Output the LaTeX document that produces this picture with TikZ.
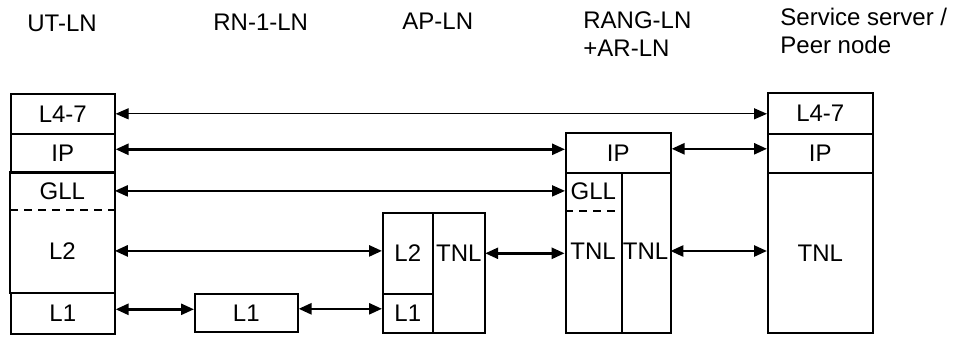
\documentclass[tikz,border=0pt]{standalone}
\usepackage{fontspec}
\setmainfont{Liberation Sans}
\usetikzlibrary{arrows.meta}

\begin{document}
\begin{tikzpicture}[x=0.5pt, y=-0.5pt,
    every node/.style={font=\fontsize{12}{14}\selectfont, inner sep=0pt},
    titre/.style={anchor=base west},
    cell/.style={draw, line width=0.8pt, anchor=north west},
    texte/.style={anchor=north west},
    fleche/.style={{Triangle[length=6.5pt,width=5.5pt]}-{Triangle[length=6.5pt,width=5.5pt]}, line width=1.3pt}]

    \useasboundingbox (0,0) rectangle (953,338);

    % Titres des colonnes (ancre sur la derniere ligne)
    \node[titre] (tut) at (27,31) {UT-LN};
    \node[titre] (trn) at (213,30) {RN-1-LN};
    \node[titre] (tap) at (402,29) {AP-LN};
    \node[titre, align=left] (trang) at (583,56) {RANG-LN\\+AR-LN};
    \node[titre, align=left] (tserv) at (780,53) {Service server /\\Peer node};

    % Pile UT-LN
    \node[cell, minimum width=52pt, minimum height=20pt] (utl47) at (10,93) {L4-7};
    \node[cell, minimum width=52pt, minimum height=19.5pt] (utip) at (10,133) {IP};
    \node[texte, minimum width=52pt, minimum height=18.5pt] (utgll) at (10,172) {GLL};
    \node[texte, minimum width=52pt, minimum height=41.5pt] (utl2) at (10,209) {L2};
    \node[cell, minimum width=52pt, minimum height=20.5pt] (utl1) at (10,292) {L1};
    \draw[line width=0.8pt] (utgll.north west) rectangle (utl2.south east);
    \draw[line width=0.8pt, dash pattern=on 4pt off 3pt] (utgll.south west) -- (utgll.south east);

    % Pile RN-1-LN
    \node[cell, minimum width=51.5pt, minimum height=19pt] (rnl1) at (194,293) {L1};

    % Pile AP-LN
    \node[cell, minimum width=25pt, minimum height=40.5pt] (apl2) at (382,212) {L2};
    \node[cell, minimum width=25pt, minimum height=19.5pt] (apl1) at (382,293) {L1};
    \node[cell, minimum width=26pt, minimum height=60pt] (apcol) at (432,212) {};
    \node[minimum width=26pt] (aptnl) at (apcol.center |- apl2.center) {TNL};

    % Pile RANG-LN + AR-LN
    \node[cell, minimum width=52.5pt, minimum height=20pt] (rgip) at (565,132) {IP};
    \node[cell, minimum width=28pt, minimum height=80pt] (rgcolg) at (565,172) {};
    \node[cell, minimum width=24.5pt, minimum height=80pt] (rgcold) at (621,172) {};
    \node[texte, minimum width=28pt, minimum height=19pt] (rggll) at (565,172) {GLL};
    \draw[line width=0.8pt, dash pattern=on 4pt off 3pt] (rggll.south west) -- (rggll.south east);
    \node[minimum width=28pt] (rgtnlg) at (593,251) {TNL};
    \node[minimum width=24.5pt] (rgtnld) at (645.5,251) {TNL};

    % Pile serveur / noeud pair
    \node[cell, minimum width=52.5pt, minimum height=20.5pt] (svl47) at (767,92) {L4-7};
    \node[cell, minimum width=52.5pt, minimum height=19.5pt] (svip) at (767,133) {IP};
    \node[cell, minimum width=52.5pt, minimum height=80pt] (svtnl) at (767,172) {TNL};

    % Liaisons entre couches homologues
    \draw[fleche, line width=0.6pt] (utl47.east) -- (utl47.east -| svl47.west);
    \draw[fleche] ([yshift=2pt]utip.east) -- ([yshift=2pt]utip.east -| rgip.west);
    \draw[fleche] ([yshift=2pt]rgip.east) -- ([yshift=2pt]rgip.east -| svip.west);
    \draw[fleche, line width=1pt] (utgll.east) -- (utgll.east -| rggll.west);
    \draw[fleche] (utl2.east) -- (utl2.east -| apl2.west);
    \draw[fleche] (aptnl.east) -- (aptnl.east -| rgtnlg.west);
    \draw[fleche] (rgtnld.east) -- (rgtnld.east -| svtnl.west);
    \draw[fleche] ([yshift=2pt]utl1.east) -- ([yshift=2pt]utl1.east -| rnl1.west);
    \draw[fleche] ([yshift=2pt]rnl1.east) -- ([yshift=2pt]rnl1.east -| apl1.west);
\end{tikzpicture}
\end{document}
